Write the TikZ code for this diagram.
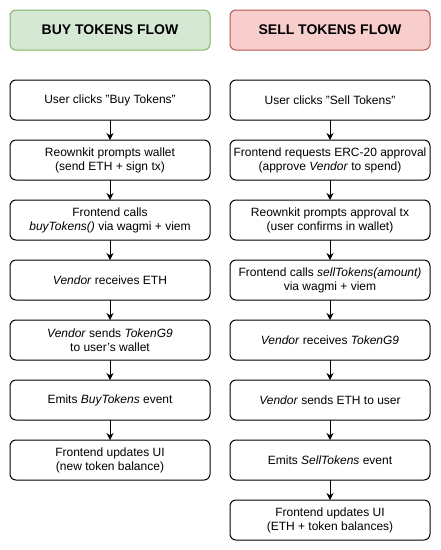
\documentclass[tikz,border=0pt]{standalone}
\usepackage{fontspec}
\setmainfont{Liberation Sans}
\usetikzlibrary{positioning,arrows.meta}
\definecolor{buyfill}{HTML}{D5E8D4}
\definecolor{buyline}{HTML}{82B366}
\definecolor{sellfill}{HTML}{F8CECC}
\definecolor{sellline}{HTML}{B85450}
\tikzset{stepbox/.style={draw,rounded corners=6pt,minimum width=200pt,minimum height=40pt,outer sep=0pt,align=center,inner sep=2pt,font=\fontsize{12}{14}\selectfont},
headbox/.style={stepbox,font=\fontsize{14}{16}\selectfont\bfseries},
>={Stealth[length=7pt,width=7pt]}}

\begin{document}
\begin{tikzpicture}[line width=1pt]
\useasboundingbox (0,0) rectangle (440pt,-550pt);
\node[headbox,fill=buyfill,draw=buyline] (bh) at (110pt,-30pt) {BUY TOKENS FLOW};
\node[headbox,fill=sellfill,draw=sellline] (sh) at (330pt,-30pt) {SELL TOKENS FLOW};
% buy column
\node[stepbox,below=30pt of bh] (b1) {User clicks "Buy Tokens"};
\node[stepbox,below=20pt of b1] (b2) {Reownkit prompts wallet\\(send ETH + sign tx)};
\node[stepbox,below=20pt of b2] (b3) {Frontend calls\\\textit{buyTokens()} via wagmi + viem};
\node[stepbox,below=20pt of b3] (b4) {\textit{Vendor} receives ETH};
\node[stepbox,below=20pt of b4] (b5) {\textit{Vendor} sends \textit{TokenG9}\\to user's wallet};
\node[stepbox,below=20pt of b5] (b6) {Emits \textit{BuyTokens} event};
\node[stepbox,below=20pt of b6] (b7) {Frontend updates UI\\(new token balance)};
% sell column
\node[stepbox,below=30pt of sh] (s1) {User clicks "Sell Tokens"};
\node[stepbox,below=20pt of s1] (s2) {Frontend requests ERC-20 approval\\(approve \textit{Vendor} to spend)};
\node[stepbox,below=20pt of s2] (s3) {Reownkit prompts approval tx\\(user confirms in wallet)};
\node[stepbox,below=20pt of s3] (s4) {Frontend calls \textit{sellTokens(amount)}\\via wagmi + viem};
\node[stepbox,below=20pt of s4] (s5) {\textit{Vendor} receives \textit{TokenG9}};
\node[stepbox,below=20pt of s5] (s6) {\textit{Vendor} sends ETH to user};
\node[stepbox,below=20pt of s6] (s7) {Emits \textit{SellTokens} event};
\node[stepbox,below=20pt of s7] (s8) {Frontend updates UI\\(ETH + token balances)};
\path[->] (b1) edge (b2);
\path[->] (b2) edge (b3);
\path[->] (b3) edge (b4);
\path[->] (b4) edge (b5);
\path[->] (b5) edge (b6);
\path[->] (b6) edge (b7);
\path[->] (s1) edge (s2);
\path[->] (s2) edge (s3);
\path[->] (s3) edge (s4);
\path[->] (s4) edge (s5);
\path[->] (s5) edge (s6);
\path[->] (s6) edge (s7);
\path[->] (s7) edge (s8);
\end{tikzpicture}
\end{document}
